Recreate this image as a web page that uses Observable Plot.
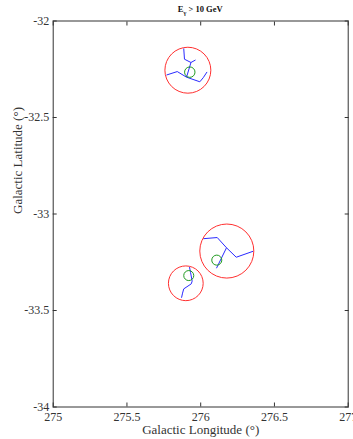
<!DOCTYPE html>
<html><head><meta charset="utf-8">
<script src="https://cdn.jsdelivr.net/npm/d3@7"></script>
<script src="https://cdn.jsdelivr.net/npm/@observablehq/plot@0.6"></script>
<style>body{margin:0;background:#fff}</style>
</head><body><div id="chart"></div>
<script>
// Regions (large red), sources (small green), radii in degrees of latitude
const regionLon = [275.913, 276.177, 275.899];
const regionLat = [-32.255, -33.192, -33.359];
const regionRad = [0.119, 0.140, 0.090];
const srcLon = [275.926, 276.109, 275.919];
const srcLat = [-32.265, -33.239, -33.319];
const srcRad = [0.027, 0.026, 0.026];
// Blue tree nodes per cluster
const nodeLon = [
  [275.885, 275.890, 275.934, 275.965, 275.904, 275.841, 275.768, 275.994, 276.017, 276.043],
  [276.017, 276.112, 276.175, 276.241, 276.356, 276.107],
  [275.924, 275.931, 275.942, 275.936, 275.885, 275.877, 275.870]
];
const nodeLat = [
  [-32.142, -32.198, -32.215, -32.202, -32.291, -32.262, -32.280, -32.315, -32.294, -32.264],
  [-33.128, -33.122, -33.175, -33.224, -33.193, -33.281],
  [-33.275, -33.302, -33.348, -33.362, -33.388, -33.410, -33.434]
];
const edges = [
  [[0,1],[1,2],[2,3],[2,4],[4,5],[5,6],[4,7],[7,8],[8,9]],
  [[0,1],[1,2],[2,3],[3,4],[2,5]],
  [[0,1],[1,2],[2,3],[3,4],[4,5],[5,6]]
];
const xTicks = [275, 275.5, 276, 276.5, 277];
const yTicks = [-32, -32.5, -33, -33.5, -34];
const title = "E";

const W = 353, H = 439, mT = 20.5, mB = 32.5, mL = 52.7, mR = 5.3;
const yDom = [-34, -32];
const pxPerDeg = (H - mT - mB) / (yDom[1] - yDom[0]);

const regions = regionLon.map((d, i) => ({lon: d, lat: regionLat[i], rad: regionRad[i]}));
const srcs = srcLon.map((d, i) => ({lon: d, lat: srcLat[i], rad: srcRad[i]}));
const segs = [];
edges.forEach((es, c) => es.forEach(([a, b]) => segs.push({
  x1: nodeLon[c][a], y1: nodeLat[c][a], x2: nodeLon[c][b], y2: nodeLat[c][b]
})));

const fmt = d => String(d);
const chart = Plot.plot({
  width: W, height: H,
  marginTop: mT, marginBottom: mB, marginLeft: mL, marginRight: mR,
  style: {fontFamily: "'Liberation Serif', serif", fontSize: "12px", color: "#333", background: "#fff"},
  x: {domain: [275, 277]},
  y: {domain: yDom},
  r: {type: "linear", domain: [0, 1], range: [0, pxPerDeg]},
  marks: [
    Plot.frame({stroke: "#333", strokeWidth: 1}),
    Plot.axisX(xTicks, {anchor: "bottom", tickSize: -4, tickPadding: 9, tickFormat: fmt, fontSize: 12,
      label: null}),
    Plot.text(["Galactic Longitude (°)"], {frameAnchor: "bottom", dy: 27, fontSize: 13, fill: "#333"}),
    Plot.axisX(xTicks, {anchor: "top", tickSize: -4, tickFormat: () => "", label: null}),
    Plot.axisY(yTicks, {anchor: "left", tickSize: -4, tickPadding: 8, tickFormat: fmt, fontSize: 12,
      label: null}),
    Plot.text(["Galactic Latitude (°)"], {frameAnchor: "left", dx: -35, rotate: -90, fontSize: 13, fill: "#333"}),
    Plot.axisY(yTicks, {anchor: "right", tickSize: -4, tickFormat: () => "", label: null}),
    Plot.link(segs, {x1: "x1", y1: "y1", x2: "x2", y2: "y2", stroke: "#2a2aff", strokeWidth: 1}),
    Plot.dot(regions, {x: "lon", y: "lat", r: "rad", stroke: "#ff3030", strokeWidth: 1}),
    Plot.dot(srcs, {x: "lon", y: "lat", r: "rad", stroke: "#1f9a1f", strokeWidth: 1}),
  ]
});
// title with subscript gamma
const svg = d3.select(chart);
const t = svg.append("text").attr("x", mL + (W - mL - mR) / 2).attr("y", 12)
  .attr("text-anchor", "middle").attr("font-size", 8.5).attr("font-weight", "bold")
  .attr("font-family", "'Liberation Serif', serif").attr("fill", "#111");
t.append("tspan").text(title);
t.append("tspan").attr("font-size", 6).attr("dy", 3).text("γ");
t.append("tspan").attr("dy", -3).text(" > 10 GeV");
document.getElementById("chart").appendChild(chart);
</script>
</body></html>
